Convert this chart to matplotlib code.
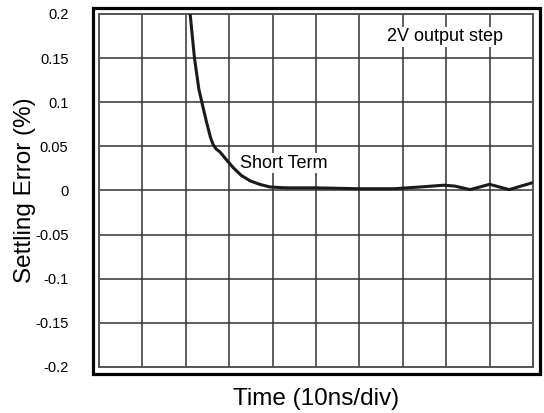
import numpy as np
import matplotlib.pyplot as plt
from matplotlib.patches import Rectangle

plt.rcParams['font.family'] = ['Liberation Sans', 'DejaVu Sans']

# settling curve: time in divisions (10ns/div), error in %
t_div = [2.06, 2.1, 2.2, 2.3, 2.37, 2.48, 2.57, 2.63, 2.7, 2.78, 2.85, 2.95, 3.09,
         3.28, 3.48, 3.7, 3.94, 4.3, 5.0, 6.0, 6.8, 7.4, 7.95, 8.2, 8.55, 9.0, 9.45, 10.0]
err = [0.21, 0.2, 0.15, 0.115, 0.1, 0.077, 0.06, 0.052, 0.047, 0.044, 0.04, 0.034, 0.026,
       0.017, 0.011, 0.007, 0.004, 0.003, 0.003, 0.002, 0.002, 0.004, 0.006, 0.005,
       0.001, 0.007, 0.001, 0.009]

yticks = [-0.2, -0.15, -0.1, -0.05, 0, 0.05, 0.1, 0.15, 0.2]
ylabels = ['-0.2', '-0.15', '-0.1', '-0.05', '0', '0.05', '0.1', '0.15', '0.2']

fig = plt.figure(figsize=(5.44, 4.13), dpi=100)
ax = fig.add_axes([99/544, 46/413, 434/544, 353/413])

ax.plot(t_div, err, color='#1a1a1a', lw=2.2, zorder=4, solid_capstyle='round',
        solid_joinstyle='round')

ax.set_xlim(0, 10)
ax.set_ylim(-0.2, 0.2)
ax.set_xticks(range(11))
ax.set_xticklabels([])
ax.set_yticks(yticks)
ax.set_yticklabels(ylabels, fontsize=10.5)
ax.tick_params(axis='y', length=0, pad=22)
ax.tick_params(axis='x', length=0, pad=0)
ax.grid(True, color='#333333', lw=1.1)
ax.set_axisbelow(True)
for s in ax.spines.values():
    s.set_color('#555555')
    s.set_linewidth(1.4)

# outer thick frame
w, h = 434, 353
ax.add_patch(Rectangle((-6.5/w, -6.5/h), 1 + 13/w, 1 + 12/h, transform=ax.transAxes,
                       fill=False, ec='black', lw=2.3, clip_on=False, zorder=5))

ax.text(3.25, 0.031, 'Short Term', fontsize=13, va='center', ha='left', zorder=3,
        bbox=dict(fc='white', ec='none', pad=1))
ax.text(7.97, 0.174, '2V output step', fontsize=13, va='center', ha='center', zorder=3,
        bbox=dict(fc='white', ec='none', pad=1))

ax.set_xlabel('Time (10ns/div)', fontsize=17.5, labelpad=15)
ax.set_ylabel('Settling Error (%)', fontsize=17.5, labelpad=-1)

plt.savefig('out.png', dpi=100)
